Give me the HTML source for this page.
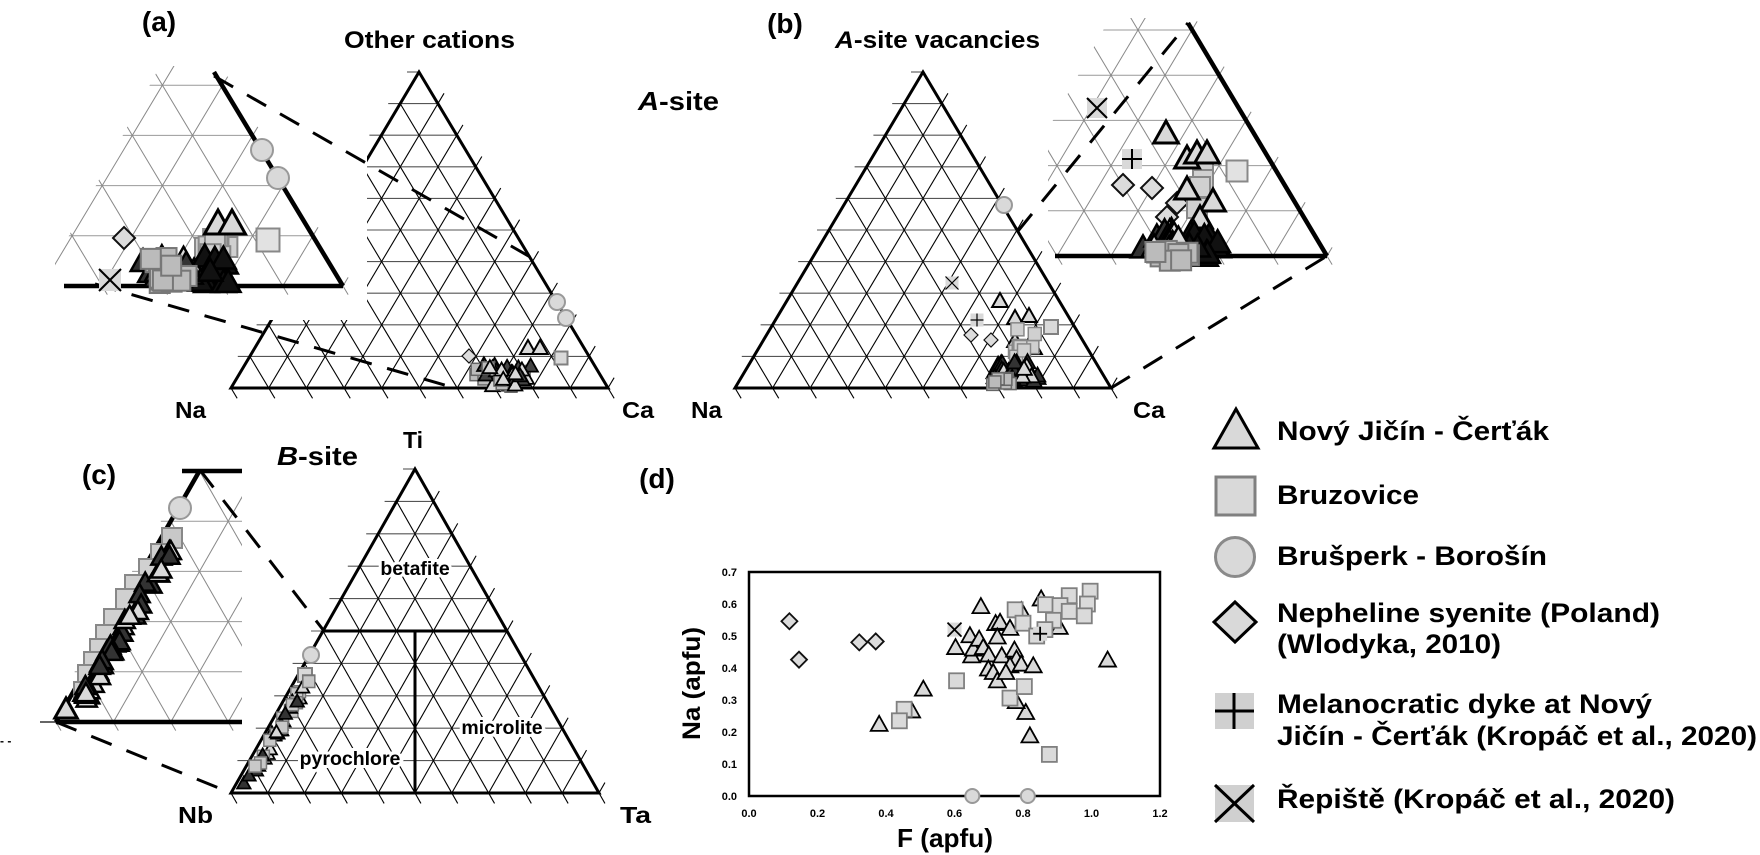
<!DOCTYPE html>
<html><head><meta charset="utf-8"><style>
html,body{margin:0;padding:0;background:#fff;}
svg{display:block;}
text{font-family:"Liberation Sans",Arial,sans-serif;font-weight:bold;fill:#000;}
</style></head><body>
<svg id="s" xmlns="http://www.w3.org/2000/svg" width="1760" height="855" viewBox="0 0 1760 855">
<defs>
<clipPath id="ca"><polygon points="160,66 64,245 55,245 55,300 372,300 372,66"/></clipPath>
<clipPath id="cb"><polygon points="1110,18 1052,122 1048,122 1048,272 1345,272 1345,18"/></clipPath>
<clipPath id="cc"><rect x="38" y="462" width="204" height="275"/></clipPath>
</defs>
<rect width="1760" height="855" fill="#fff"/>
<g id="ga"></g><g id="gb"></g><g id="gc"></g><g id="gd"></g><g id="gl"></g>

<text x="159" y="31" font-size="28" text-anchor="middle">(a)</text>
<text x="344" y="48" font-size="24" textLength="171" lengthAdjust="spacingAndGlyphs">Other cations</text>
<text x="175" y="418" font-size="23" textLength="31" lengthAdjust="spacingAndGlyphs">Na</text>
<text x="622" y="418" font-size="23" textLength="32" lengthAdjust="spacingAndGlyphs">Ca</text>

<text x="785" y="33" font-size="28" text-anchor="middle">(b)</text>
<text x="835" y="48" font-size="24" textLength="205" lengthAdjust="spacingAndGlyphs"><tspan font-style="italic">A</tspan>-site vacancies</text>
<text x="638" y="110" font-size="26" textLength="81" lengthAdjust="spacingAndGlyphs"><tspan font-style="italic">A</tspan>-site</text>
<text x="691" y="418" font-size="23" textLength="31" lengthAdjust="spacingAndGlyphs">Na</text>
<text x="1133" y="418" font-size="23" textLength="32" lengthAdjust="spacingAndGlyphs">Ca</text>

<text x="99" y="484" font-size="28" text-anchor="middle">(c)</text>
<text x="277" y="465" font-size="26" textLength="81" lengthAdjust="spacingAndGlyphs"><tspan font-style="italic">B</tspan>-site</text>
<text x="413" y="448" font-size="23" text-anchor="middle">Ti</text>
<text x="178" y="823" font-size="23" textLength="35" lengthAdjust="spacingAndGlyphs">Nb</text>
<text x="620" y="823" font-size="23" textLength="31" lengthAdjust="spacingAndGlyphs">Ta</text>
<text x="0" y="745" font-size="12">- -</text>

<text x="657" y="488" font-size="28" text-anchor="middle">(d)</text>

<g id="lg"></g>
<text x="1277" y="440" font-size="27" textLength="272" lengthAdjust="spacingAndGlyphs">Nový Jičín - Čerťák</text>
<text x="1277" y="504" font-size="27" textLength="142" lengthAdjust="spacingAndGlyphs">Bruzovice</text>
<text x="1277" y="565" font-size="27" textLength="270" lengthAdjust="spacingAndGlyphs">Brušperk - Borošín</text>
<text x="1277" y="622" font-size="27" textLength="383" lengthAdjust="spacingAndGlyphs">Nepheline syenite (Poland)</text>
<text x="1277" y="653" font-size="27" textLength="224" lengthAdjust="spacingAndGlyphs">(Wlodyka, 2010)</text>
<text x="1277" y="713" font-size="27" textLength="375" lengthAdjust="spacingAndGlyphs">Melanocratic dyke at Nový</text>
<text x="1277" y="745" font-size="27" textLength="480" lengthAdjust="spacingAndGlyphs">Jičín - Čerťák (Kropáč et al., 2020)</text>
<text x="1277" y="808" font-size="27" textLength="398" lengthAdjust="spacingAndGlyphs">Řepiště (Kropáč et al., 2020)</text>

<text x="897" y="847" font-size="26" textLength="96" lengthAdjust="spacingAndGlyphs">F (apfu)</text>
<text transform="translate(700,740) rotate(-90)" font-size="25" textLength="113" lengthAdjust="spacingAndGlyphs">Na (apfu)</text>
<g font-size="11">
<text x="749" y="817" text-anchor="middle">0.0</text>
<text x="817.5" y="817" text-anchor="middle">0.2</text>
<text x="886" y="817" text-anchor="middle">0.4</text>
<text x="954.5" y="817" text-anchor="middle">0.6</text>
<text x="1023" y="817" text-anchor="middle">0.8</text>
<text x="1091.5" y="817" text-anchor="middle">1.0</text>
<text x="1160" y="817" text-anchor="middle">1.2</text>
<text x="737" y="800" text-anchor="end">0.0</text>
<text x="737" y="768" text-anchor="end">0.1</text>
<text x="737" y="736" text-anchor="end">0.2</text>
<text x="737" y="704" text-anchor="end">0.3</text>
<text x="737" y="672" text-anchor="end">0.4</text>
<text x="737" y="640" text-anchor="end">0.5</text>
<text x="737" y="608" text-anchor="end">0.6</text>
<text x="737" y="576" text-anchor="end">0.7</text>
</g>
<g id="top"></g>
<g font-size="19.5" text-anchor="middle" stroke="#fff" stroke-width="6" paint-order="stroke" style="paint-order:stroke">
<text x="415" y="575">betafite</text>
<text x="502" y="734">microlite</text>
<text x="350" y="765">pyrochlore</text>
</g>
</svg>
<script>
(function(){
const NS='http://www.w3.org/2000/svg';
function E(p,t,a){const e=document.createElementNS(NS,t);for(const k in a)e.setAttribute(k,a[k]);p.appendChild(e);return e;}
function Ln(p,a,b,c,w,ex){const o={x1:a[0],y1:a[1],x2:b[0],y2:b[1],stroke:c,'stroke-width':w};if(ex)for(const k in ex)o[k]=ex[k];return E(p,'line',o);}
function lp(a,b,t){return[a[0]+(b[0]-a[0])*t,a[1]+(b[1]-a[1])*t];}
function un(a,b){const dx=b[0]-a[0],dy=b[1]-a[1],l=Math.hypot(dx,dy);return[dx/l,dy/l];}
function ad(p,v,s){return[p[0]+v[0]*s,p[1]+v[1]*s];}
function grid(g,A,L,R,n,hc,dc,w,tk){
  const uRA=un(R,A),uLA=un(L,A);
  for(let k=0;k<=n;k++){const t=k/n;
    const pl=lp(L,A,t),pr=lp(R,A,t),B=lp(L,R,t);
    if(k>0&&k<n){
      Ln(g,[pl[0]-tk,pl[1]],pr,hc,w);
      Ln(g,ad(B,uRA,-tk),lp(L,A,t),dc,w);
      Ln(g,B,ad(lp(R,A,1-t),uLA,tk),dc,w);
    } else if(k==0){
      Ln(g,ad(L,uRA,-tk),L,dc,w);
      Ln(g,R,ad(R,uLA,tk),dc,w);
    } else {
      Ln(g,[A[0]-tk,A[1]],A,hc,w);
      Ln(g,ad(R,uRA,-tk),R,dc,w);
    }
  }
}
function edges(g,A,L,R,w){E(g,'polygon',{points:`${A} ${L} ${R}`,fill:'none',stroke:'#000','stroke-width':w,'stroke-linejoin':'miter'});}
function tri(g,x,y,h,f,s,sw){E(g,'polygon',{points:`${x},${y-h/2} ${x-h*0.56},${y+h/2} ${x+h*0.56},${y+h/2}`,fill:f||'#d9d9d9',stroke:s||'#000','stroke-width':sw||2,'stroke-linejoin':'miter'});}
function sq(g,x,y,s,f,st,sw){E(g,'rect',{x:x-s/2,y:y-s/2,width:s,height:s,fill:f||'#d9d9d9',stroke:st||'#808080','stroke-width':sw||2});}
function cir(g,x,y,r){E(g,'circle',{cx:x,cy:y,r:r,fill:'#d9d9d9',stroke:'#999','stroke-width':2});}
function dia(g,x,y,h,sw){E(g,'polygon',{points:`${x},${y-h} ${x+h},${y} ${x},${y+h} ${x-h},${y}`,fill:'#dcdcdc',stroke:'#111','stroke-width':sw||1.8});}
function plus(g,x,y,s,sw){E(g,'rect',{x:x-s/2,y:y-s/2,width:s,height:s,fill:'#d9d9d9'});Ln(g,[x-s/2,y],[x+s/2,y],'#000',sw||2);Ln(g,[x,y-s/2],[x,y+s/2],'#000',sw||2);}
function crs(g,x,y,s,sw){E(g,'rect',{x:x-s/2,y:y-s/2,width:s,height:s,fill:'#d9d9d9'});Ln(g,[x-s/2,y-s/2],[x+s/2,y+s/2],'#000',sw||2);Ln(g,[x-s/2,y+s/2],[x+s/2,y-s/2],'#000',sw||2);}
let seed=7;function rnd(){seed=(seed*16807)%2147483647;return seed/2147483647;}
const dash={'stroke-dasharray':'22 16'};

/* ---------- (a) ---------- */
const ga=document.getElementById('ga');
let A=[419,72],L=[231,388],R=[608,388];
grid(ga,A,L,R,10,'#555','#000',1.1,12);
edges(ga,A,L,R,3);
E(ga,'rect',{x:0,y:0,width:367,height:320,fill:'#fff'});
// inset a
const ia=E(ga,'g',{'clip-path':'url(#ca)'});
grid(ia,[42,-216],[-259,286],[343,286],10,'#999','#888',1,10);
Ln(ga,[64,286],[343,286],'#000',4.5);
Ln(ga,[214,72],[343,286],'#000',4.5);
Ln(ga,[214,76],[532,258],'#000',3,dash);
Ln(ga,[95,284],[455,388],'#000',3,dash);
// main a data
const da=E(ga,'g',{});
cir(da,557,302,8);cir(da,566,318,8);dia(da,469,356,7,1.2);sq(da,561,358,13);
tri(da,528,347,14);tri(da,540,347,14);
seed=3;for(let i=0;i<40;i++){const x=482+rnd()*50,y=363+rnd()*22;if(rnd()<0.35)sq(da,x-6,y+3,12,'#bbb','#666',1.5);else tri(da,x,y,13,rnd()<0.5?'#d9d9d9':'#444','#000',1.8);}
// inset a data
const ida=E(ga,'g',{});
cir(ida,262,150,11);cir(ida,278,178,11);
dia(ida,124,238,11,2);sq(ida,268,240,23,'#e2e2e2','#888',2);
crs(ida,110,280,22,2);
seed=11;
for(let i=0;i<10;i++){sq(ida,205+rnd()*26,238+rnd()*22,20,'#d0d0d0','#888',2);}
tri(ida,218,222,24,'#d9d9d9','#000',3);tri(ida,232,222,24,'#d9d9d9','#000',3);
for(let i=0;i<30;i++){const x=142+rnd()*88,y=255+rnd()*26;tri(ida,x,y,22,x>195?'#111':(rnd()<0.5?'#d9d9d9':'#333'),'#000',2.5);}
for(let i=0;i<14;i++){sq(ida,150+rnd()*38,258+rnd()*26,20,'#bbb','#777',2);}

/* ---------- (b) ---------- */
const gb=document.getElementById('gb');
A=[923,72];L=[735,388];R=[1111,388];
grid(gb,A,L,R,10,'#555','#000',1.1,12);
edges(gb,A,L,R,3);
const ib=E(gb,'g',{'clip-path':'url(#cb)'});
grid(ib,[1057,-196],[787,256],[1327,256],10,'#999','#888',1,10);
Ln(gb,[1055,256],[1327,256],'#000',4.5);
Ln(gb,[1188,23],[1327,256],'#000',4.5);
Ln(gb,[1018,231],[1188,23],'#000',3,dash);
Ln(gb,[1111,388],[1327,256],'#000',3,dash);
const db=E(gb,'g',{});
cir(db,1004,205,8);crs(db,952,283,13,1.2);tri(db,1000,300,14);plus(db,977,320,13,1.2);sq(db,1051,327,14);
dia(db,971,335,7,1.2);dia(db,991,340,7,1.2);
tri(db,1015,317,14);tri(db,1029,315,14);tri(db,1015,340,14);tri(db,1034,347,14);
seed=21;for(let i=0;i<8;i++)sq(db,1015+rnd()*20,325+rnd()*35,13,'#d0d0d0','#888',1.5);
for(let i=0;i<35;i++){const x=994+rnd()*44,y=360+rnd()*22;tri(db,x,y,14,rnd()<0.5?'#d9d9d9':'#333','#000',1.8);}
for(let i=0;i<8;i++)sq(db,992+rnd()*20,378+rnd()*8,12,'#bbb','#666',1.5);
const idb=E(gb,'g',{});
crs(idb,1097,108,20,2);tri(idb,1166,132,22,'#d9d9d9','#000',3);plus(idb,1132,159,20,2);
dia(idb,1123,185,11,2);dia(idb,1152,188,11,2);dia(idb,1177,203,11,2);dia(idb,1167,217,11,2);
[[1203,163],[1203,180],[1200,187],[1197,208]].forEach(p=>sq(idb,p[0],p[1],20,'#d0d0d0','#888',2));
sq(idb,1237,171,21,'#e2e2e2','#888',2);
[[1187,157],[1197,152],[1207,152],[1187,188],[1213,200],[1200,217]].forEach(p=>tri(idb,p[0],p[1],22,'#d9d9d9','#000',3));
seed=5;for(let i=0;i<34;i++){const x=1143+rnd()*80,y=228+rnd()*28;tri(idb,x,y,22,x>1185?'#111':(rnd()<0.5?'#d9d9d9':'#333'),'#000',2.5);}
for(let i=0;i<10;i++)sq(idb,1155+rnd()*34,250+rnd()*12,20,'#bbb','#777',2);

/* ---------- (c) ---------- */
const gc=document.getElementById('gc');
A=[415,469];L=[231,793];R=[599,793];
grid(gc,A,L,R,10,'#555','#000',1.1,12);
edges(gc,A,L,R,3);
Ln(gc,[323,631],[507,631],'#000',3);
Ln(gc,[415,631],[415,793],'#000',3);
const ic=E(gc,'g',{'clip-path':'url(#cc)'});
grid(ic,[343,220],[56,722],[630,722],10,'#999','#888',1,10);
Ln(gc,[56,722],[242,722],'#000',4.5);Ln(gc,[40,722],[56,722],'#000',1.2);
Ln(gc,[200,470],[56,722],'#000',4.5);
Ln(gc,[182,471],[242,471],'#000',4.5);
Ln(gc,[200,470],[324,631],'#000',3,dash);
Ln(gc,[56,722],[231,793],'#000',3,dash);
const dc=E(gc,'g',{});
cir(dc,311,655,8);sq(dc,305,675,14);
seed=9;for(let i=0;i<40;i++){const y=685+rnd()*98,ex=415-(y-469)*0.568;if(rnd()<0.4)sq(dc,ex+10+rnd()*8,y-4,12,'#c8c8c8','#777',1.5);else tri(dc,ex+6+rnd()*9,y,12,rnd()<0.5?'#d9d9d9':'#333','#000',1.8);}
const idc=E(gc,'g',{});
cir(idc,180,508,11);sq(idc,172,538,20,'#c8c8c8','#888',2);
const pts=[[153,562],[141,577],[127,593],[118,607],[106,627],[98,643],[92,657],[86,670],[80,683],[76,700]];
pts.forEach((p,i)=>{sq(idc,p[0]+8,p[1]-8,20,'#d0d0d0','#888',2);});
seed=13;for(let i=0;i<40;i++){const y=550+rnd()*150,ex=200-(y-470)*0.571;tri(idc,ex+8+rnd()*10,y,18,rnd()<0.5?'#d9d9d9':'#333','#000',2.5);}
tri(idc,66,708,20,'#d9d9d9','#000',3);

/* ---------- (d) ---------- */
const gd=document.getElementById('gd');
E(gd,'rect',{x:749,y:572,width:411,height:224,fill:'none',stroke:'#000','stroke-width':2.5});
const X=f=>749+f*342.5,Y=n=>796-n*320;
[[.118,.546],[.146,.426],[.322,.48],[.37,.483]].forEach(p=>dia(gd,X(p[0]),Y(p[1]),8,1.8));
cir(gd,X(.652),Y(0),7);cir(gd,X(.814),Y(0),7);
const sqs=[[.606,.36],[.453,.271],[.439,.235],[.777,.582],[.8,.54],[.866,.598],[.935,.626],[.996,.64],[.988,.6],[.908,.595],[.935,.577],[.979,.563],[.889,.549],[.84,.5],[.864,.52],[.762,.306],[.804,.342],[.877,.13]];
const tris=[[.677,.595],[.853,.619],[.795,.582],[.72,.542],[.733,.546],[.762,.527],[.645,.504],[.603,.467],[.65,.441],[.655,.462],[.672,.493],[.684,.467],[.7,.444],[.725,.5],[.738,.441],[.775,.459],[.781,.431],[.762,.41],[.795,.415],[.83,.41],[.699,.4],[.713,.389],[.725,.363],[.75,.389],[.509,.337],[.475,.269],[.38,.227],[.808,.264],[.82,.191],[.78,.298],[1.047,.428],[.906,.53]];
tris.forEach(p=>tri(gd,X(p[0]),Y(p[1]),15,'#d9d9d9','#000',1.8));
sqs.forEach(p=>sq(gd,X(p[0]),Y(p[1]),15,'#dadada','#808080',1.8));
crs(gd,X(.6),Y(.52),14,1.8);plus(gd,X(.85),Y(.507),14,1.8);

/* ---------- legend ---------- */
const lg=document.getElementById('lg');
E(lg,'polygon',{points:'1236,409 1214,448 1258,448',fill:'#d9d9d9',stroke:'#000','stroke-width':3});
E(lg,'rect',{x:1216,y:477,width:39,height:38,fill:'#d9d9d9',stroke:'#808080','stroke-width':3});
E(lg,'circle',{cx:1235,cy:557,r:19.5,fill:'#d9d9d9',stroke:'#8a8a8a','stroke-width':3});
E(lg,'polygon',{points:'1235,602 1256,622 1235,642 1214,622',fill:'#d9d9d9',stroke:'#000','stroke-width':3});
E(lg,'rect',{x:1215,y:693,width:39,height:36,fill:'#d0d0d0'});
Ln(lg,[1215,711],[1254,711],'#000',3);Ln(lg,[1234,693],[1234,729],'#000',3);
E(lg,'rect',{x:1215,y:785,width:39,height:37,fill:'#d0d0d0'});
Ln(lg,[1215,785],[1254,822],'#000',3);Ln(lg,[1215,822],[1254,785],'#000',3);
})();
</script>
</body></html>
